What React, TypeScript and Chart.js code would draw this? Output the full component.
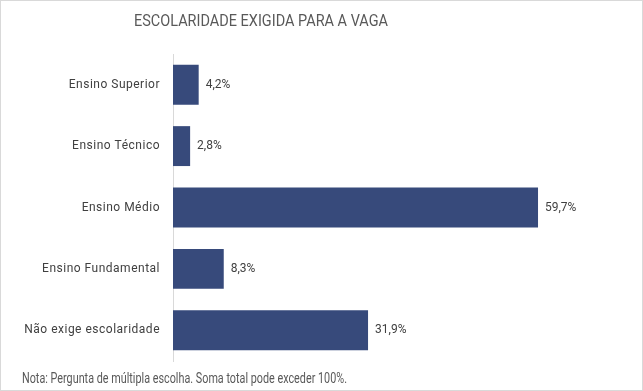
import React, { useEffect, useRef } from "react";
import { Chart, registerables } from "chart.js";

Chart.register(...registerables);

const categories = [
  "Ensino Superior",
  "Ensino Técnico",
  "Ensino Médio",
  "Ensino Fundamental",
  "Não exige escolaridade",
];
const values = [4.2, 2.8, 59.7, 8.3, 31.9];
const titleText = "ESCOLARIDADE EXIGIDA PARA A VAGA";
const noteText = "Nota: Pergunta de múltipla escolha. Soma total pode exceder 100%.";

const FONT = "Roboto, 'Open Sans', sans-serif";
const TEXT = "#404040";
const SUB = "#595959";
const BAR = "#374a7b";

function fitText(ctx: any, text: string, x: number, y: number, width: number, align: "left" | "center") {
  const w = ctx.measureText(text).width;
  const s = width / w;
  ctx.save();
  ctx.textAlign = "left";
  const left = align === "center" ? x - width / 2 : x;
  ctx.translate(left, y);
  ctx.scale(s, 1);
  ctx.fillText(text, 0, 0);
  ctx.restore();
}

const decor = {
  id: "decor",
  afterDraw(chart: any) {
    const ctx = chart.ctx;
    const meta = chart.getDatasetMeta(0);
    const yScale = chart.scales.y;
    ctx.save();
    ctx.textBaseline = "middle";
    // category labels
    ctx.font = `12px ${FONT}`;
    ctx.fillStyle = TEXT;
    ctx.textAlign = "right";
    (ctx as any).letterSpacing = "0.5px";
    categories.forEach((c, i) => {
      ctx.fillText(c, 160, yScale.getPixelForTick(i));
    });
    (ctx as any).letterSpacing = "0px";
    // data labels
    ctx.font = `12px ${FONT}`;
    ctx.textAlign = "left";
    meta.data.forEach((el: any, i: number) => {
      const label = values[i].toFixed(1).replace(".", ",") + "%";
      ctx.fillText(label, el.x + 7, el.y);
    });
    // title
    ctx.fillStyle = SUB;
    ctx.font = `17px ${FONT}`;
    fitText(ctx, titleText, 261, 22, 254, "center");
    // note
    ctx.font = `14px ${FONT}`;
    fitText(ctx, noteText, 22, 379, 325, "left");
    // outer border
    ctx.strokeStyle = "#d9d9d9";
    ctx.lineWidth = 1;
    ctx.strokeRect(0.5, 0.5, chart.width - 1, chart.height - 1);
    ctx.restore();
  },
};

export default function App() {
  const ref = useRef<HTMLCanvasElement>(null);
  useEffect(() => {
    document.body.style.margin = "0";
    const chart = new Chart(ref.current!, {
      type: "bar",
      data: {
        labels: categories,
        datasets: [
          {
            data: values,
            backgroundColor: BAR,
            barPercentage: 0.65,
            categoryPercentage: 1,
          },
        ],
      },
      options: {
        indexAxis: "y",
        animation: false,
        responsive: false,
        maintainAspectRatio: false,
        layout: { padding: { left: 0, right: 42, top: 54, bottom: 30 } },
        plugins: {
          legend: { display: false },
          title: { display: false },
          tooltip: { enabled: false },
        },
        scales: {
          x: { display: false, min: 0, max: 70 },
          y: {
            grid: { display: false, drawTicks: false },
            border: { display: true, color: "#d9d9d9", width: 1 },
            ticks: { display: false },
            afterFit(scale: any) {
              scale.width = 173;
            },
          },
        },
      },
      plugins: [decor],
    });
    return () => chart.destroy();
  }, []);
  return (
    <div style={{ width: 643, height: 391, background: "#fff" }}>
      <canvas ref={ref} width={643} height={391} style={{ display: "block" }} />
    </div>
  );
}
